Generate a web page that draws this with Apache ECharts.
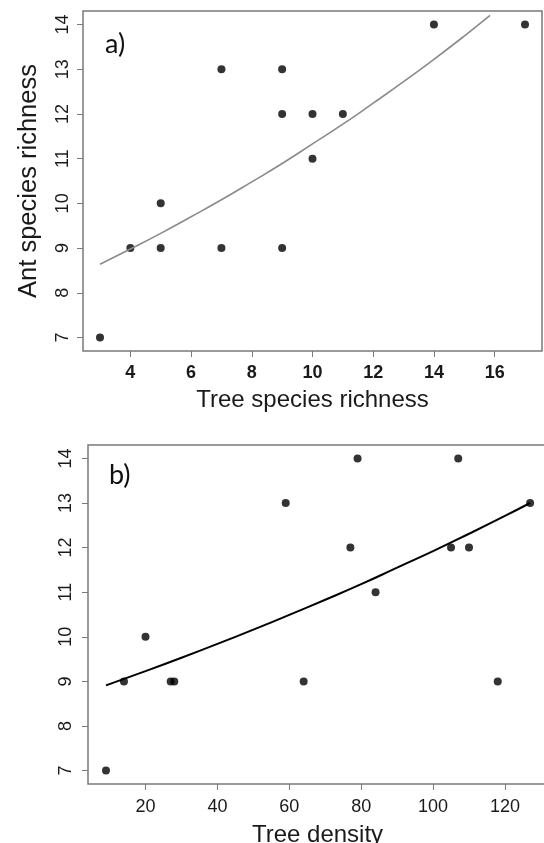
<!DOCTYPE html>
<html>
<head>
<meta charset="utf-8">
<script src="https://cdn.jsdelivr.net/npm/echarts@6/dist/echarts.min.js"></script>
<style>
html,body{margin:0;padding:0;background:#fff;}
#chart{width:544px;height:843px;}
</style>
</head>
<body>
<div id="chart"></div>
<script>
// Panel a: tree species richness vs ant species richness
const treeRichness = [3, 4, 5, 5, 7, 7, 9, 9, 9, 10, 10, 11, 14, 17];
const antRichnessA = [7, 9, 9, 10, 9, 13, 9, 12, 13, 11, 12, 12, 14, 14];
// fitted curve
const fitAx = [3, 4, 5, 6, 7, 8, 9, 10, 11, 12, 13, 14, 15, 15.85];
const fitAy = [8.64, 8.98, 9.33, 9.70, 10.08, 10.48, 10.89, 11.33, 11.77, 12.24, 12.72, 13.22, 13.74, 14.20];

// Panel b: tree density vs ant species richness
const treeDensity = [9, 14, 20, 27, 28, 59, 64, 77, 79, 84, 105, 107, 110, 118, 127];
const antRichnessB = [7, 9, 10, 9, 9, 13, 9, 12, 14, 11, 12, 14, 12, 9, 13];
const fitBx = [9, 20, 30, 40, 50, 60, 70, 80, 90, 100, 110, 120, 127];
const fitBy = [8.91, 9.23, 9.53, 9.84, 10.16, 10.49, 10.83, 11.18, 11.55, 11.92, 12.31, 12.71, 13.00];

// tick labels
const xTicksA = [4, 6, 8, 10, 12, 14, 16];
const xTicksB = [20, 40, 60, 80, 100, 120];
const yTicks = [7, 8, 9, 10, 11, 12, 13, 14];

const zip = (a, b) => a.map((v, i) => [v, b[i]]);

const FONT = 'Liberation Sans';
const boxColor = '#7a7a7a';
const textColor = '#1a1a1a';

function xAxisCfg(idx, min, max, ticks, name, bold, margin, gap) {
  return {
    type: 'value', gridIndex: idx, min: min, max: max,
    name: name, nameLocation: 'middle', nameGap: gap,
    nameTextStyle: {fontFamily: FONT, fontSize: 24, color: textColor},
    axisLine: {show: false},
    splitLine: {show: false},
    axisTick: {show: true, length: 6, lineStyle: {color: boxColor, width: 1}, customValues: ticks},
    axisLabel: {show: true, customValues: ticks, margin: margin, fontFamily: FONT, fontSize: 18,
      fontWeight: bold ? 'bold' : 'normal', color: textColor}
  };
}
function yAxisCfg(idx, name, margin) {
  return {
    type: 'value', gridIndex: idx, min: 6.7, max: 14.3,
    name: name, nameLocation: 'middle', nameGap: 41,
    nameTextStyle: {fontFamily: FONT, fontSize: 25.5, color: textColor},
    axisLine: {show: false},
    splitLine: {show: false},
    axisTick: {show: true, length: 6, lineStyle: {color: boxColor, width: 1}, customValues: yTicks},
    axisLabel: {show: true, customValues: yTicks, rotate: 90, margin: margin, fontFamily: FONT, fontSize: 18, color: textColor}
  };
}

const chart = echarts.init(document.getElementById('chart'), null, {renderer: 'canvas'});
chart.setOption({
  animation: false,
  backgroundColor: '#fff',
  title: [
    {text: 'a)', left: 100, top: 26, textStyle: {fontFamily: 'Lato', fontSize: 27, fontWeight: 'normal', color: '#111'}},
    {text: 'b)', left: 104, top: 457, textStyle: {fontFamily: 'Lato', fontSize: 27, fontWeight: 'normal', color: '#111'}}
  ],
  grid: [
    {left: 83, top: 11, width: 459, height: 340, show: true, borderColor: boxColor, borderWidth: 1.5, backgroundColor: 'transparent', outerBoundsMode: 'none', containLabel: false},
    {left: 88, top: 445, width: 459, height: 339, show: true, borderColor: boxColor, borderWidth: 1.5, backgroundColor: 'transparent', outerBoundsMode: 'none', containLabel: false}
  ],
  xAxis: [
    xAxisCfg(0, 2.44, 17.56, xTicksA, 'Tree species richness', true, 13, 37),
    xAxisCfg(1, 4, 131.7, xTicksB, 'Tree density', false, 14, 39)
  ],
  yAxis: [
    yAxisCfg(0, 'Ant species richness', 11),
    yAxisCfg(1, '', 13)
  ],
  series: [
    {type: 'line', xAxisIndex: 0, yAxisIndex: 0, data: zip(fitAx, fitAy), showSymbol: false, smooth: true,
      lineStyle: {color: '#8a8a8a', width: 1.6}, silent: true},
    {type: 'scatter', xAxisIndex: 0, yAxisIndex: 0, data: zip(treeRichness, antRichnessA), symbol: 'circle', symbolSize: 8,
      itemStyle: {color: '#000'}},
    {type: 'line', xAxisIndex: 1, yAxisIndex: 1, data: zip(fitBx, fitBy), showSymbol: false, smooth: true,
      lineStyle: {color: '#000', width: 2}, silent: true},
    {type: 'scatter', xAxisIndex: 1, yAxisIndex: 1, data: zip(treeDensity, antRichnessB), symbol: 'circle', symbolSize: 8,
      itemStyle: {color: '#000'}}
  ]
});
</script>
</body>
</html>
